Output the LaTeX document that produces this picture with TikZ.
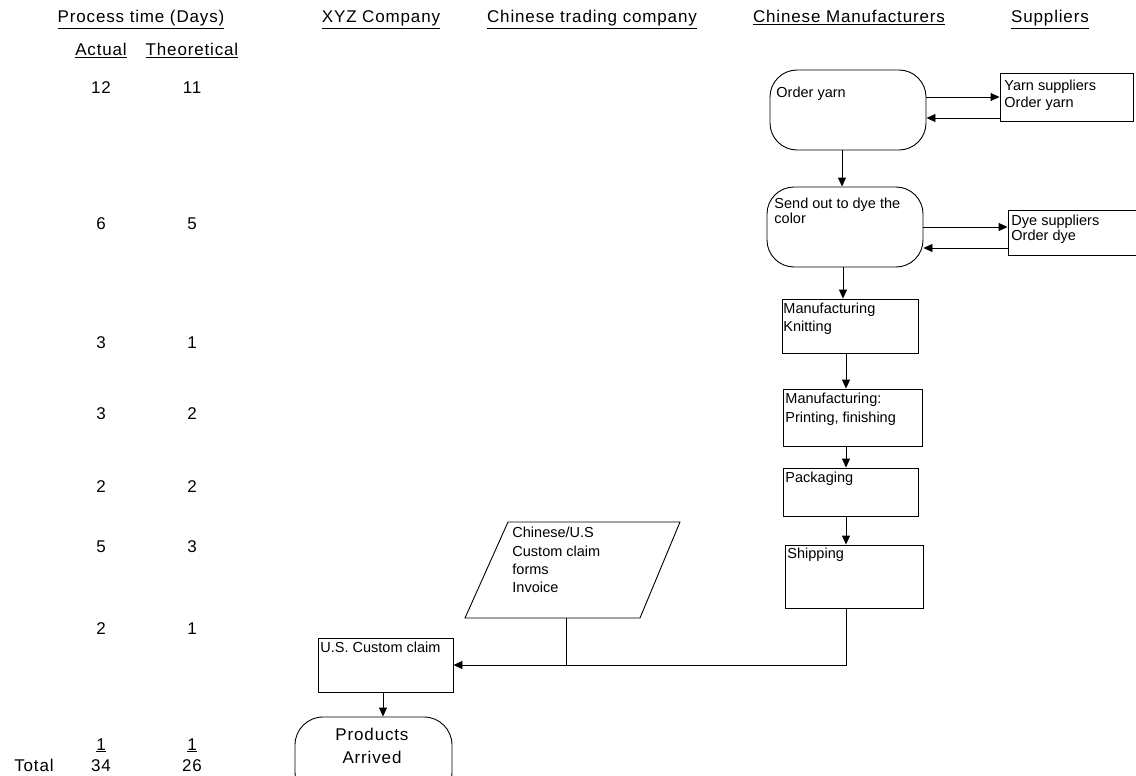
\documentclass[tikz,border=0pt]{standalone}
\usepackage{fontspec}
\setmainfont{Liberation Sans}
\newfontfamily\hdrfont[LetterSpace=5]{Liberation Sans}
\usetikzlibrary{arrows.meta}

\begin{document}
\begin{tikzpicture}[x=1pt,y=-1pt,
  line width=0.9pt,
  arr/.style={-{Triangle[length=9pt,width=8pt]}},
  proc/.style={draw, rectangle, inner sep=0pt},
  term/.style={draw, rectangle, rounded corners=27pt, inner sep=0pt},
  txt/.style={anchor=north west, align=left, inner sep=0pt, font=\fontsize{14.5}{17}\selectfont},
  hdr/.style={anchor=base, inner sep=0pt, font=\hdrfont\fontsize{17}{20}\selectfont},
]
\useasboundingbox (0,0) rectangle (1136,776);

% ---- lane headings ----
\node[hdr] (hProc) at (141,23) {\underline{Process time (Days)}};
\node[hdr] (hXYZ)  at (381,23) {\underline{XYZ Company}};
\node[hdr] (hTrad) at (592,23) {\underline{Chinese trading company}};
\node[hdr] (hMan)  at (849,23) {\underline{Chinese Manufacturers}};
\node[hdr] (hSup)  at (1050,23) {\underline{Suppliers}};

% ---- process time columns ----
\node[hdr] (cAct) at (101,56) {\underline{Actual}};
\node[hdr] (cThe) at (192,56) {\underline{Theoretical}};
\foreach \a/\t/\y [count=\i] in {12/11/94, 6/5/229, 3/1/348, 3/2/419, 2/2/492, 5/3/552, 2/1/634}{
  \node[hdr] (a\i) at (101,\y) {\a};
  \node[hdr] (t\i) at (192,\y) {\t};
}
\node[hdr] (a8) at (101,750) {\underline{1}};
\node[hdr] (t8) at (192,750) {\underline{1}};
\node[hdr] (tot)  at (34,771) {Total};
\node[hdr] (aTot) at (101,771) {34};
\node[hdr] (tTot) at (192,771) {26};

% ---- manufacturer lane ----
\node[term, minimum width=156pt, minimum height=80pt] (oy) at (848,110) {};
\node[txt] (oyT) at (776,87) {Order yarn};
\node[term, minimum width=156pt, minimum height=80pt] (so) at (845,227) {};
\node[txt, font=\fontsize{14.5}{14.5}\selectfont] (soT) at (774,198) {Send out to dye the\\color};
\node[proc, minimum width=136pt, minimum height=54pt] (knit) at (850,326) {};
\node[txt, font=\fontsize{14.5}{18}\selectfont] (knitT) at (783,303) {Manufacturing\\Knitting};
\node[proc, minimum width=139pt, minimum height=57pt] (print) at (852.5,417.5) {};
\node[txt, font=\fontsize{14.5}{19}\selectfont] (printT) at (785,393) {Manufacturing:\\Printing, finishing};
\node[proc, minimum width=135pt, minimum height=48pt] (pack) at (850.5,492) {};
\node[txt] (packT) at (785,472) {Packaging};
\node[proc, minimum width=138pt, minimum height=63pt] (ship) at (854,576.5) {};
\node[txt] (shipT) at (787,548) {Shipping};

% ---- supplier lane ----
\node[proc, minimum width=133pt, minimum height=48pt] (ys) at (1066.5,97) {};
\node[txt] (ysT) at (1004,80) {Yarn suppliers\\Order yarn};
\node[proc, minimum width=142pt, minimum height=45pt] (ds) at (1079,232.5) {};
\node[txt, font=\fontsize{14.5}{15}\selectfont] (dsT) at (1011,215) {Dye suppliers\\Order dye};

% ---- trading company lane: customs documents ----
\coordinate (pbl) at (465,618);
\coordinate (pbr) at (640,618);
\coordinate (ptr) at (680,522);
\coordinate (ptl) at (508,522);
\coordinate (docs) at (566,618);
\draw (pbl) -- (pbr) -- (ptr) -- (ptl) -- cycle;
\node[txt, font=\fontsize{14.5}{18.3}\selectfont] (docsT) at (512,527) {Chinese/U.S\\Custom claim\\forms\\Invoice};

% ---- XYZ lane ----
\node[proc, minimum width=135pt, minimum height=54pt] (us) at (385.5,665) {};
\node[txt] (usT) at (320,642) {U.S. Custom claim};
\node[term, rounded corners=28pt, minimum width=157pt, minimum height=83pt] (pa) at (373.5,758.5) {};
\node[align=center, inner sep=0pt, font=\hdrfont\fontsize{17}{23}\selectfont] (paT) at (372,746) {Products\\Arrived};

% ---- connectors ----
\draw[arr] (oy.east |- ys.west) -- (ys.west);
\draw[arr] ([yshift=-21pt]ys.west) -- ([yshift=-21pt]ys.west -| oy.east);
\draw[arr] (so.east) -- (so.east -| ds.west);
\draw[arr] ([yshift=-21pt]so.east -| ds.west) -- ([yshift=-21pt]so.east);
\draw[arr] ([xshift=-6pt]oy.south) -- ([xshift=-6pt]oy.south |- so.north);
\draw[arr] ([xshift=-2pt]so.south) -- ([xshift=-2pt]so.south |- knit.north);
\draw[arr] ([xshift=-4pt]knit.south) -- ([xshift=-4pt]knit.south |- print.north);
\draw[arr] ([xshift=-6.5pt]print.south) -- ([xshift=-6.5pt]print.south |- pack.north);
\draw[arr] ([xshift=-4.5pt]pack.south) -- ([xshift=-4.5pt]pack.south |- ship.north);
\draw[arr] ([xshift=-8pt]ship.south) |- (us.east);
\draw (docs) -- (docs |- us.east);
\draw[arr] ([xshift=-2.5pt]us.south) -- ([xshift=-2.5pt]us.south |- pa.north);
\end{tikzpicture}
\end{document}
